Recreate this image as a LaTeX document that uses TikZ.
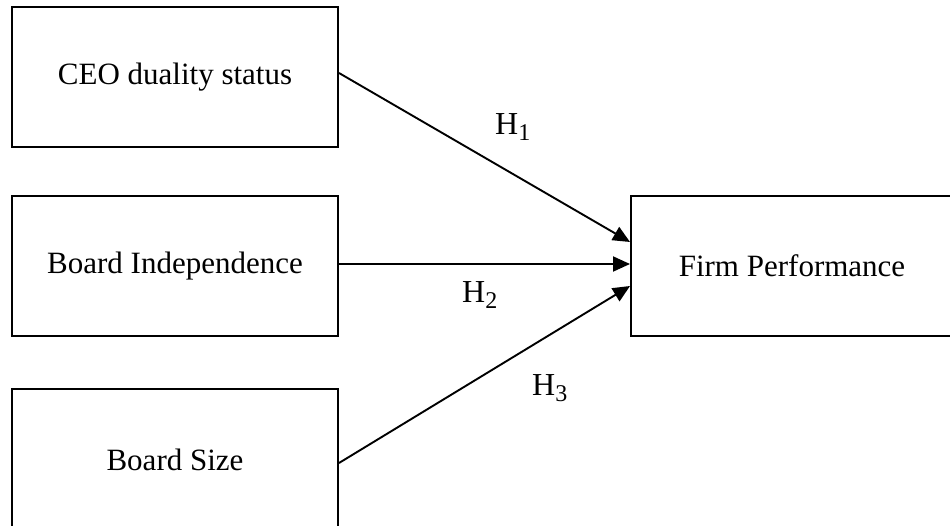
\documentclass[tikz,border=0pt]{standalone}
\usepackage{fontspec}
\setmainfont{Liberation Serif}
\usetikzlibrary{arrows.meta}
\newcommand{\hsub}[1]{H\raisebox{-6pt}{\fontsize{24}{28}\selectfont #1}}
\begin{document}
\begin{tikzpicture}[x=1pt,y=-1pt,
  box/.style={draw,line width=2pt,inner sep=0pt,font=\fontsize{31}{37}\selectfont},
  link/.style={line width=1.9pt,-{Triangle[length=17pt,width=15pt]}},
  hyp/.style={inner sep=0pt,anchor=base west,font=\fontsize{32}{37}\selectfont}]
\useasboundingbox (0,0) rectangle (950,526);
\clip (0,0) rectangle (950,526);
\node[box,minimum width=326pt,minimum height=140pt] (ceo) at (175,77) {CEO duality status};
\node[box,minimum width=326pt,minimum height=140pt] (bi) at (175,266) {Board Independence};
\node[box,minimum width=326pt,minimum height=142pt] (bs) at (175,460) {Board Size};
\node[box,minimum width=322pt,minimum height=140pt] (fp) at (792,266) {Firm Performance};
\draw[link] ([yshift=4pt]ceo.east) -- ([yshift=24pt]fp.west);
\draw[link] ([yshift=2pt]bi.east) -- ([yshift=2pt]fp.west);
\draw[link] ([yshift=-3pt]bs.east) -- ([yshift=-20pt]fp.west);
\node[hyp] (h1) at (495,135) {\hsub{1}};
\node[hyp] (h2) at (462,303) {\hsub{2}};
\node[hyp] (h3) at (532,395) {\hsub{3}};
\end{tikzpicture}
\end{document}
